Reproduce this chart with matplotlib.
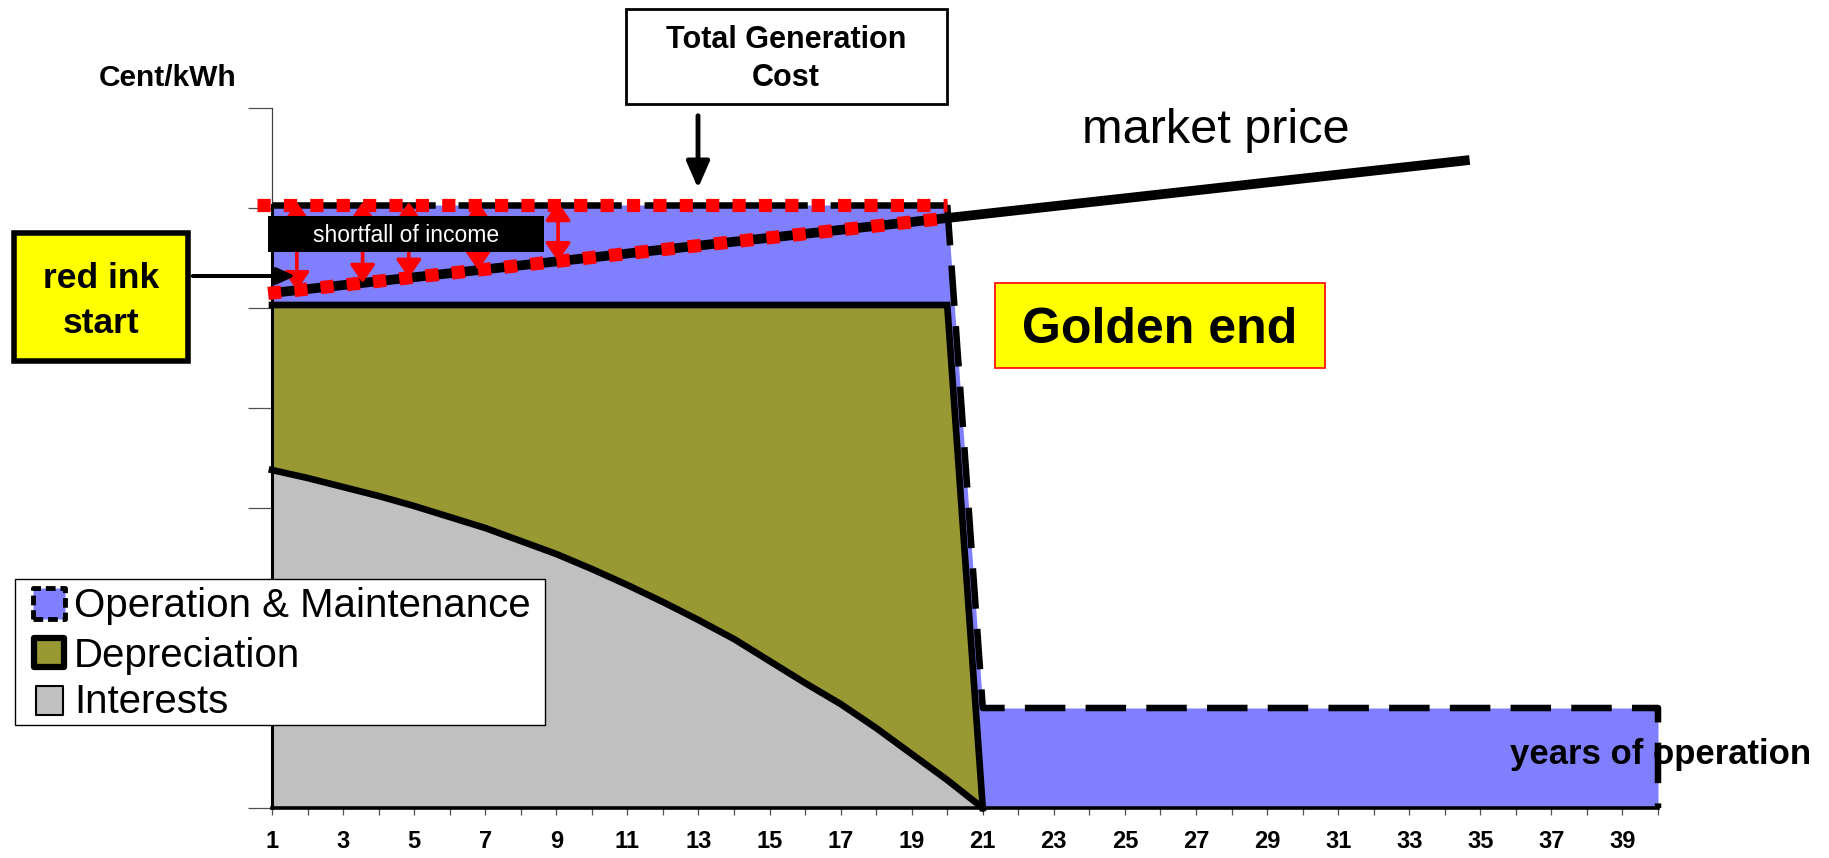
import matplotlib
matplotlib.use("Agg")
import matplotlib.pyplot as plt
from matplotlib.patches import Rectangle, FancyArrowPatch
import numpy as np

plt.rcParams["font.family"] = ["Liberation Sans", "DejaVu Sans"]

W, H = 1829, 858

# --- data (Cent/kWh per year of operation) ---
years = list(range(1, 41))
interests = [3.38, 3.30, 3.21, 3.12, 3.02, 2.91, 2.80, 2.67, 2.54, 2.39,
             2.23, 2.06, 1.88, 1.69, 1.47, 1.25, 1.04, 0.80, 0.54, 0.28] + [0.0] * 20
depreciation = [1.65, 1.73, 1.82, 1.91, 2.01, 2.12, 2.23, 2.36, 2.49, 2.64,
                2.80, 2.97, 3.15, 3.34, 3.56, 3.78, 3.99, 4.23, 4.49, 4.75] + [0.0] * 20
operation = [1.0] * 40
series_names = ["Operation & Maintenance", "Depreciation", "Interests"]

market_years = [1, 34.7]
market_price = [5.15, 6.48]
shortfall_years = [1.7, 3.55, 4.85, 6.8, 9.05]
xtick_labels = [str(y) if y % 2 == 1 else "" for y in years]

c_blue = "#8080ff"
c_olive = "#999933"
c_gray = "#c0c0c0"
c_red = "#ff0000"
c_yellow = "#ffff00"


def fx(px):
    return px / W


def fy(py):
    return 1 - py / H


def market_at(x):
    slope = (market_price[1] - market_price[0]) / (market_years[1] - market_years[0])
    return market_price[0] + (x - market_years[0]) * slope


fig = plt.figure(figsize=(W / 100, H / 100), dpi=100)
ax = fig.add_axes([fx(272), fy(808), (1658 - 272) / W, 700 / H])

s1 = np.array(interests)
s2 = s1 + np.array(depreciation)
s3 = s2 + np.array(operation)

ax.fill_between(years, 0, s1, color=c_gray, lw=0, zorder=1)
ax.fill_between(years, s1, s2, color=c_olive, lw=0, zorder=1)
ax.fill_between(years, s2, s3, color=c_blue, lw=0, zorder=1)

# outlines
ax.plot(years[:21], s1[:21], color="black", lw=4.8, zorder=3, clip_on=False,
        solid_joinstyle="round")
ax.plot(years[:21], s2[:21], color="black", lw=4.8, zorder=3, clip_on=False,
        solid_joinstyle="miter")
ax.plot([years[0], years[-1]], [0, 0], color="black", lw=2.6, zorder=3, clip_on=False)
ax.plot([years[0], years[0]], [0, s3[0]], color="black", lw=2.2, zorder=3, clip_on=False)
ax.plot(years[:20], s3[:20], color="black", lw=4.7, zorder=3, clip_on=False,
        dashes=(25, 3.5), dash_capstyle="butt")
ax.plot(years[19:] + [years[-1]], list(s3[19:]) + [0], color="black", lw=4.7,
        zorder=3, clip_on=False, dashes=(6.2, 3.1), dash_capstyle="butt")

# market price
ax.plot(market_years, market_price, color="black", lw=7, zorder=4,
        solid_capstyle="butt")

# red dotted overlays
ax.plot([0.58, years[19]], [s3[0], s3[0]], color=c_red, lw=9.5, zorder=5,
        clip_on=False, dashes=(1.0, 1.0), dash_capstyle="butt")
ax.plot([0.89, years[19]], [market_at(0.89), market_at(years[19])], color=c_red,
        lw=9.5, zorder=5, clip_on=False, dashes=(1.0, 1.0), dash_capstyle="butt")

for xa in shortfall_years:
    ax.annotate("", xy=(xa, s3[0] + 0.03), xytext=(xa, market_at(xa)),
                arrowprops=dict(arrowstyle="<|-|>,head_length=0.55,head_width=0.38",
                                color=c_red, lw=2.6, shrinkA=0, shrinkB=0,
                                mutation_scale=20),
                zorder=6, annotation_clip=False)

ax.set_xlim(1, 40)
ax.set_ylim(0, 7)
ax.set_xticks(years)
ax.set_xticklabels(xtick_labels, fontsize=17, fontweight="bold")
ax.set_yticks(range(0, 8))
ax.set_yticklabels([])
ax.tick_params(axis="x", length=5, width=0.9, color="#505050", pad=11)
ax.tick_params(axis="y", length=17, width=0.9, color="#505050")
for side in ["top", "right"]:
    ax.spines[side].set_visible(False)
ax.spines["left"].set_color("#404040")
ax.spines["left"].set_linewidth(0.9)
ax.spines["bottom"].set_color("#505050")
ax.patch.set_alpha(0)

# --- annotations ---
fig.text(fx(99), fy(86), "Cent/kWh", fontsize=21.5, fontweight="bold", va="baseline")

fig.add_artist(Rectangle((fx(626), fy(104)), (947 - 626) / W, (104 - 9) / H,
                         transform=fig.transFigure, facecolor="white",
                         edgecolor="black", lw=2))
fig.text(fx(786), fy(48), "Total Generation", fontsize=22, fontweight="bold",
         ha="center", va="baseline")
fig.text(fx(786), fy(86), "Cost", fontsize=22, fontweight="bold",
         ha="center", va="baseline")
fig.add_artist(FancyArrowPatch((fx(698), fy(113)), (fx(698), fy(191)),
                               transform=fig.transFigure,
                               arrowstyle="-|>,head_length=16,head_width=7",
                               mutation_scale=1, color="black", lw=3.5))

fig.text(fx(1216), fy(143), "market price", fontsize=35, ha="center", va="baseline")

fig.add_artist(Rectangle((fx(14), fy(361)), (188 - 14) / W, (361 - 233) / H,
                         transform=fig.transFigure, facecolor=c_yellow,
                         edgecolor="black", lw=4))
fig.text(fx(101), fy(288), "red ink", fontsize=25.5, fontweight="bold",
         ha="center", va="baseline")
fig.text(fx(101), fy(333), "start", fontsize=25.5, fontweight="bold",
         ha="center", va="baseline")
fig.add_artist(FancyArrowPatch((fx(190), fy(276)), (fx(298), fy(276)),
                               transform=fig.transFigure,
                               arrowstyle="-|>,head_length=11,head_width=5",
                               mutation_scale=1, color="black", lw=2.9))

fig.add_artist(Rectangle((fx(268), fy(252)), (544 - 268) / W, 36 / H,
                         transform=fig.transFigure, facecolor="black",
                         edgecolor="black", lw=0))
fig.text(fx(406), fy(242), "shortfall of income", fontsize=16.5, color="white",
         ha="center", va="baseline")

fig.add_artist(Rectangle((fx(995), fy(368)), (1325 - 995) / W, (368 - 283) / H,
                         transform=fig.transFigure, facecolor=c_yellow,
                         edgecolor=c_red, lw=1.2))
fig.text(fx(1160), fy(343), "Golden end", fontsize=36, fontweight="bold",
         ha="center", va="baseline")

fig.text(fx(1510), fy(764), "years of operation", fontsize=25, fontweight="bold",
         va="baseline")

# legend
fig.add_artist(Rectangle((fx(15), fy(725)), (545 - 15) / W, (725 - 579) / H,
                         transform=fig.transFigure, facecolor="white",
                         edgecolor="black", lw=1))
handles = [
    dict(xy=(33, 619), w=32, h=31, fc=c_blue, lw=3.5, ls=(0, (2, 1))),
    dict(xy=(34, 667), w=30, h=29, fc=c_olive, lw=4.5, ls="solid"),
    dict(xy=(36, 715), w=27, h=29, fc=c_gray, lw=1.5, ls="solid"),
]
baselines = [617, 667, 713]
for hd, name, base in zip(handles, series_names, baselines):
    fig.add_artist(Rectangle((fx(hd["xy"][0]), fy(hd["xy"][1])), hd["w"] / W, hd["h"] / H,
                             transform=fig.transFigure, facecolor=hd["fc"],
                             edgecolor="black", lw=hd["lw"], linestyle=hd["ls"],
                             joinstyle="round"))
    fig.text(fx(74), fy(base), name, fontsize=29, va="baseline")

fig.savefig("out.png", dpi=100)
